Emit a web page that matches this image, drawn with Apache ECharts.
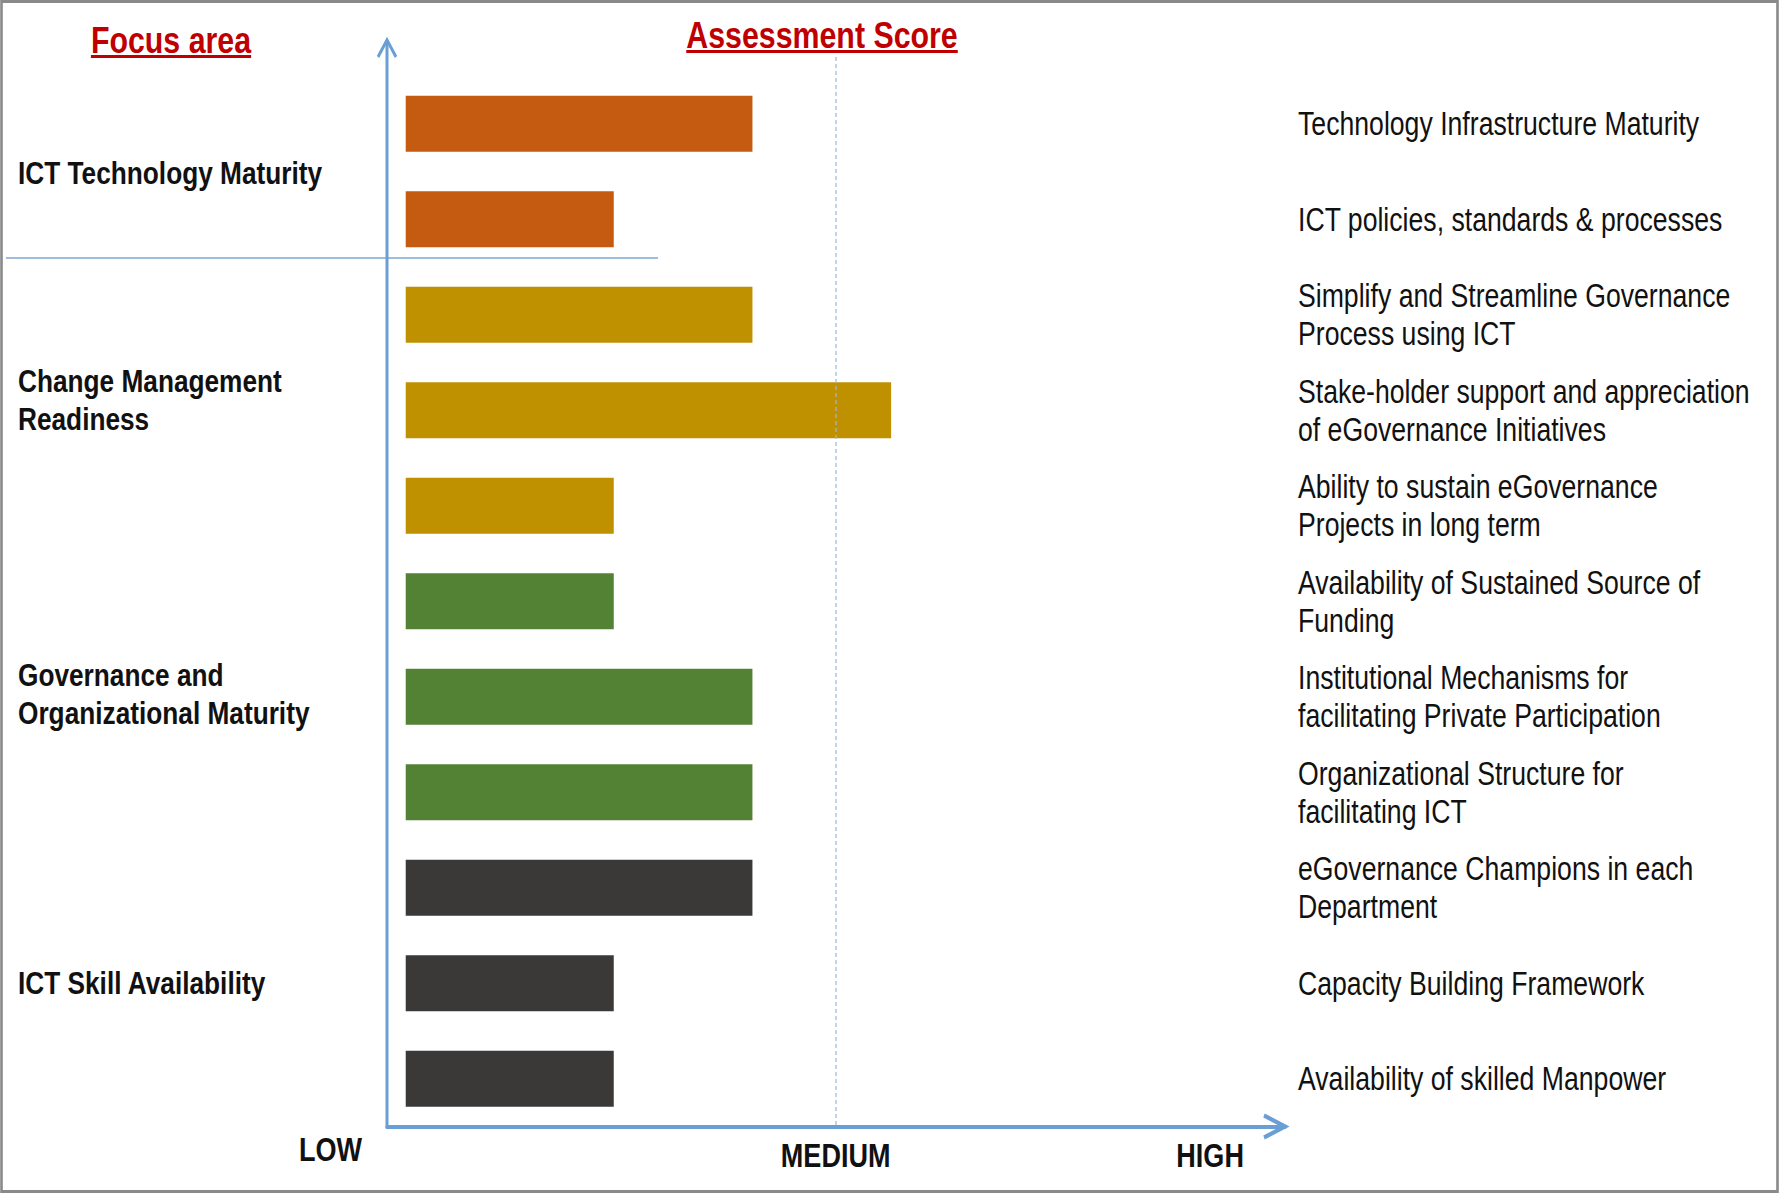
<!DOCTYPE html>
<html>
<head>
<meta charset="utf-8">
<script src="https://cdn.jsdelivr.net/npm/echarts@6/dist/echarts.min.js"></script>
<style>
html,body{margin:0;padding:0;background:#fff;overflow:hidden;width:1779px;height:1193px;}
#wrap{width:1779px;height:1193px;overflow:hidden;position:relative;}
#c{position:absolute;left:0;top:0;height:1193px;transform-origin:0 0;}
</style>
</head>
<body>
<div id="wrap"><div id="c"></div></div>
<script>
// ---- data ----
const indicators = [
  'Technology Infrastructure Maturity',
  'ICT policies, standards & processes',
  'Simplify and Streamline Governance\nProcess using ICT',
  'Stake-holder support and appreciation\nof eGovernance Initiatives',
  'Ability to sustain eGovernance\nProjects in long term',
  'Availability of Sustained Source of\nFunding',
  'Institutional Mechanisms for\nfacilitating Private Participation',
  'Organizational Structure for\nfacilitating ICT',
  'eGovernance Champions in each\nDepartment',
  'Capacity Building Framework',
  'Availability of skilled Manpower'
];
const scores = [5, 3, 5, 7, 3, 3, 5, 5, 5, 3, 3];
const groups = ['ICT Technology Maturity', 'Change Management\nReadiness', 'Governance and\nOrganizational Maturity', 'ICT Skill Availability'];
const groupSizes = [2, 3, 3, 3];
const groupColors = ['#C55A11', '#BF9000', '#548235', '#3B3838'];
const scaleLabels = ['LOW', 'MEDIUM', 'HIGH'];
const scaleValues = [null, 6.2, 11.6];
const axisMin = -0.27, axisMax = 12.68;
const headings = ['Focus area', 'Assessment Score'];

// ---- layout (final pixels; text is drawn condensed like Arial Narrow) ----
const SX = 0.82;                 // horizontal condensing factor
const X = v => v / SX;           // final x -> drawing x
const W = 1779, H = 1193;
const G = {left: 387, top: 76, width: 898, height: 1050.5};
const band = G.height / indicators.length;
const groupLabelShift = [2, -10, -3, 0];   // vertical nudge of group labels (px)
const FONT = '"Liberation Sans", Arial, sans-serif';
const AXIS_COLOR = '#6A9FD6';
const TITLE_COLOR = '#C00000';
const TEXT_COLOR = '#111111';

const el = document.getElementById('c');
el.style.width = X(W) + 'px';
el.style.transform = 'scaleX(' + SX + ')';

// group of each indicator and label positions
const groupOf = [];
const groupLabelAt = {};
const richGroup = {
  n: {fontFamily: FONT, fontWeight: 'bold', fontSize: 32, color: TEXT_COLOR, lineHeight: 38}
};
let s = 0;
groups.forEach((g, gi) => {
  for (let k = 0; k < groupSizes[gi]; k++) groupOf.push(gi);
  let mid = s + (groupSizes[gi] - 1) / 2;
  let shift = groupLabelShift[gi];
  if (!Number.isInteger(mid)) { mid = Math.floor(mid); shift += band / 2; }
  const lines = g.split('\n').map(t => '{n|' + t + '}');
  if (shift > 0) { richGroup['p' + gi] = {fontSize: 1, lineHeight: 2 * shift}; lines.unshift('{p' + gi + '| }'); }
  if (shift < 0) { richGroup['p' + gi] = {fontSize: 1, lineHeight: -2 * shift}; lines.push('{p' + gi + '| }'); }
  groupLabelAt[mid] = lines.join('\n');
  s += groupSizes[gi];
});

function textWidth(txt, font) {
  const ctx = document.createElement('canvas').getContext('2d');
  ctx.font = font;
  return ctx.measureText(txt).width;
}

const headingFont = 'bold 37px ' + FONT;
const headingPos = [[171, 40], [822, 35]];
const headingGraphics = [];
headings.forEach((h, i) => {
  const w = textWidth(h, headingFont);
  const cx = X(headingPos[i][0]), cy = headingPos[i][1];
  headingGraphics.push({
    type: 'text', x: cx, y: cy,
    style: {text: h, font: headingFont, fill: TITLE_COLOR, align: 'center', verticalAlign: 'middle'}
  });
  headingGraphics.push({
    type: 'rect', shape: {x: cx - w / 2, y: cy + 15, width: w, height: 3},
    style: {fill: TITLE_COLOR}
  });
});

const xEnd = G.left + G.width, yBase = G.top + G.height;

const chart = echarts.init(el, null, {renderer: 'svg', width: X(W), height: H});
chart.setOption({
  backgroundColor: '#ffffff',
  animation: false,
  grid: {left: X(G.left), top: G.top, width: X(G.width), height: G.height, containLabel: false, outerBoundsMode: 'none'},
  xAxis: {
    type: 'value', min: axisMin, max: axisMax,
    name: scaleLabels[0], nameLocation: 'start', nameGap: X(25),
    nameTextStyle: {fontFamily: FONT, fontWeight: 'bold', fontSize: 33, color: TEXT_COLOR,
      align: 'right', verticalAlign: 'top', lineHeight: 46},
    axisLine: {show: true, lineStyle: {color: AXIS_COLOR, width: 4}},
    axisTick: {show: false},
    splitLine: {show: false},
    axisLabel: {
      customValues: scaleValues.slice(1),
      formatter: v => scaleLabels[scaleValues.indexOf(v)] || '',
      fontFamily: FONT, fontWeight: 'bold', fontSize: 33, color: TEXT_COLOR, margin: 13
    }
  },
  yAxis: [{
    type: 'category', data: indicators, inverse: true,
    axisLine: {show: false}, axisTick: {show: false},
    axisLabel: {
      interval: 0, align: 'left', margin: X(G.left - 18),
      formatter: (v, i) => groupLabelAt[i] || '',
      rich: richGroup
    }
  }, {
    type: 'category', data: indicators, inverse: true, position: 'right',
    axisLine: {show: false}, axisTick: {show: false},
    axisLabel: {interval: 0, align: 'left', margin: X(13), fontFamily: FONT, fontSize: 32.5,
      lineHeight: 38, color: TEXT_COLOR}
  }],
  series: [{
    type: 'bar', yAxisIndex: 0, barWidth: 56,
    data: scores.map((v, i) => ({value: v, itemStyle: {color: groupColors[groupOf[i]]}})),
    markLine: {
      silent: true, symbol: 'none', label: {show: false},
      lineStyle: {color: '#9DB8DA', width: 1.2 / SX, type: [4, 3]},
      data: [[{xAxis: scaleValues[1], y: 57}, {xAxis: scaleValues[1], y: yBase}]]
    }
  }],
  graphic: [
    {type: 'rect', shape: {x: X(1.5), y: 1.5, width: X(1776), height: 1190}, style: {fill: null, stroke: '#8a8a8a', lineWidth: 3.2}},
    {type: 'line', shape: {x1: X(6), y1: 258, x2: X(658), y2: 258}, style: {stroke: '#7FA8D2', lineWidth: 1.5}},
    {type: 'line', shape: {x1: X(G.left), y1: 40, x2: X(G.left), y2: yBase + 2}, style: {stroke: AXIS_COLOR, lineWidth: 3 / SX}},
    {type: 'polyline', shape: {points: [[X(G.left - 9), 57], [X(G.left), 40], [X(G.left + 9), 57]]}, style: {stroke: AXIS_COLOR, lineWidth: 3.4, fill: null}},
    {type: 'polyline', shape: {points: [[X(xEnd - 21), yBase - 11], [X(xEnd), yBase], [X(xEnd - 21), yBase + 11]]}, style: {stroke: AXIS_COLOR, lineWidth: 4.4, fill: null}}
  ].concat(headingGraphics)
});
</script>
</body>
</html>
